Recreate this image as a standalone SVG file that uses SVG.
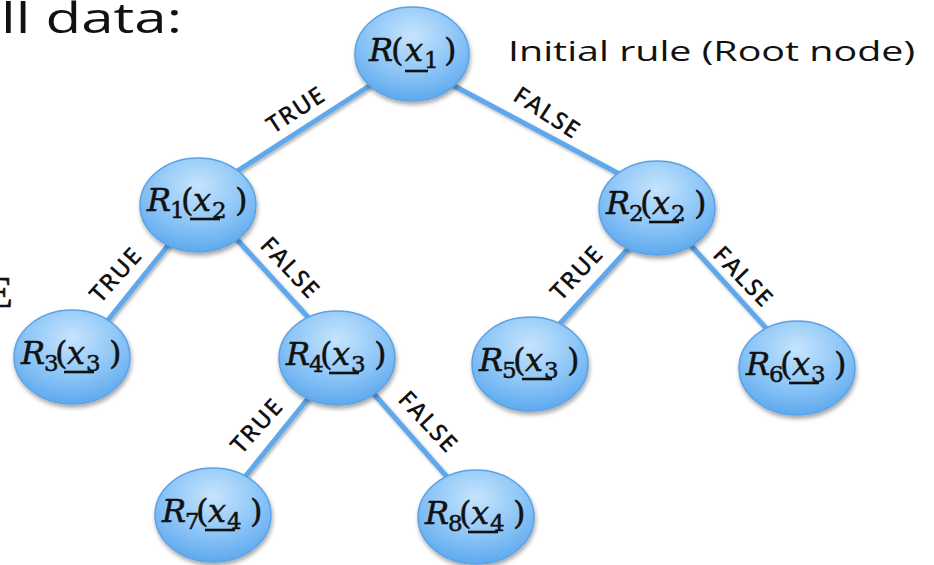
<svg xmlns="http://www.w3.org/2000/svg" width="934" height="565" viewBox="0 0 934 565">
  <defs>
    <radialGradient id="nodeFill" cx="50%" cy="30%" r="70%">
      <stop offset="0%" stop-color="#c6e4fd"/>
      <stop offset="55%" stop-color="#8fc7f7"/>
      <stop offset="100%" stop-color="#5ea9ee"/>
    </radialGradient>
    <filter id="shadow" x="-20%" y="-20%" width="140%" height="150%">
      <feDropShadow dx="1" dy="3" stdDeviation="2.2" flood-color="#000" flood-opacity="0.35"/>
    </filter>
    <filter id="lineShadow" x="-10%" y="-10%" width="120%" height="120%">
      <feDropShadow dx="1.5" dy="2" stdDeviation="1.5" flood-color="#000" flood-opacity="0.3"/>
    </filter>
  </defs>
  <style>
    .bg { fill: #ffffff; }
    .edge { stroke: #5ea8ec; stroke-width: 5; stroke-linecap: butt; fill: none; }
    .lbl { font-family: "Open Sans", "Liberation Sans", sans-serif; font-size: 24px; font-weight: 600; letter-spacing: 1.2px; fill: #111; text-anchor: middle; }
    .node ellipse { fill: url(#nodeFill); stroke: #5aa2e6; stroke-width: 1.5; filter: url(#shadow); }
    .m { font-family: "DejaVu Serif", "Liberation Serif", serif; font-size: 32px; fill: #111; stroke: #111; stroke-width: 0.5; }
    .it { font-style: italic; }
    .sb { font-size: 23px; }
    .ul { stroke: #111; stroke-width: 2.6; }
    .head { font-family: "Open Sans", "Liberation Sans", sans-serif; fill: #111; }
  </style>

  <rect class="bg" x="0" y="0" width="934" height="565"/>

  <!-- cut-off slide text -->
  <text class="head" x="1" y="33" font-size="42" textLength="181" lengthAdjust="spacingAndGlyphs">ll data:</text>
  <text x="-14" y="307" font-family="Liberation Serif, serif" font-size="44" fill="#111" stroke="#111" stroke-width="0.6">E</text>
  <text class="head" x="508" y="61" font-size="28" textLength="407" lengthAdjust="spacingAndGlyphs">Initial rule (Root node)</text>

  <!-- connectors -->
  <g id="edges" filter="url(#lineShadow)">
    <line class="edge" x1="380" y1="79" x2="225" y2="179"/>
    <line class="edge" x1="445" y1="81" x2="625" y2="177"/>
    <line class="edge" x1="174" y1="238" x2="104" y2="325"/>
    <line class="edge" x1="232" y1="234" x2="316" y2="326"/>
    <line class="edge" x1="637" y1="239" x2="555" y2="329"/>
    <line class="edge" x1="685" y1="239" x2="775" y2="338"/>
    <line class="edge" x1="315" y1="390" x2="240" y2="483"/>
    <line class="edge" x1="367" y1="386" x2="455" y2="486"/>
  </g>

  <!-- connector labels -->
  <g id="edge-labels">
    <text class="lbl" transform="translate(296,110) rotate(-33)" dy="8">TRUE</text>
    <text class="lbl" transform="translate(547,113) rotate(33)" dy="8">FALSE</text>
    <text class="lbl" transform="translate(116,275) rotate(-48)" dy="8">TRUE</text>
    <text class="lbl" transform="translate(290,268) rotate(47)" dy="8">FALSE</text>
    <text class="lbl" transform="translate(577,273) rotate(-47)" dy="8">TRUE</text>
    <text class="lbl" transform="translate(743,277) rotate(46)" dy="8">FALSE</text>
    <text class="lbl" transform="translate(257,426) rotate(-48)" dy="8">TRUE</text>
    <text class="lbl" transform="translate(428,422) rotate(47)" dy="8">FALSE</text>
  </g>

  <!-- nodes: R_k(x_j) laid out relative to the ellipse centre -->
  <g id="root" class="node">
    <ellipse cx="412" cy="54" rx="57" ry="47"/>
    <g transform="translate(412,61)">
      <text class="m"><tspan class="it" x="-43">R</tspan><tspan x="-21">(</tspan><tspan class="it" x="-7">x</tspan><tspan class="sb" x="12" dy="7">1</tspan><tspan x="32" dy="-7">)</tspan></text>
      <line class="ul" x1="-7" y1="10" x2="16" y2="10"/>
    </g>
  </g>

  <g id="r1" class="node">
    <ellipse cx="198" cy="205" rx="58" ry="47"/>
    <g transform="translate(198,211)">
      <text class="m"><tspan class="it" x="-51">R</tspan><tspan class="sb" x="-28" dy="7">1</tspan><tspan x="-17" dy="-7">(</tspan><tspan class="it" x="-5">x</tspan><tspan class="sb" x="14" dy="7">2</tspan><tspan x="37" dy="-7">)</tspan></text>
      <line class="ul" x1="-8" y1="8" x2="22" y2="8"/>
    </g>
  </g>

  <g id="r2" class="node">
    <ellipse cx="657" cy="208" rx="58" ry="47"/>
    <g transform="translate(657,214)">
      <text class="m"><tspan class="it" x="-51">R</tspan><tspan class="sb" x="-28" dy="7">2</tspan><tspan x="-17" dy="-7">(</tspan><tspan class="it" x="-5">x</tspan><tspan class="sb" x="14" dy="7">2</tspan><tspan x="37" dy="-7">)</tspan></text>
      <line class="ul" x1="-8" y1="8" x2="22" y2="8"/>
    </g>
  </g>

  <g id="r3" class="node">
    <ellipse cx="72" cy="357" rx="58" ry="47"/>
    <g transform="translate(72,364)">
      <text class="m"><tspan class="it" x="-51">R</tspan><tspan class="sb" x="-28" dy="7">3</tspan><tspan x="-17" dy="-7">(</tspan><tspan class="it" x="-5">x</tspan><tspan class="sb" x="14" dy="7">3</tspan><tspan x="37" dy="-7">)</tspan></text>
      <line class="ul" x1="-8" y1="8" x2="22" y2="8"/>
    </g>
  </g>

  <g id="r4" class="node">
    <ellipse cx="337" cy="358" rx="58" ry="47"/>
    <g transform="translate(337,365)">
      <text class="m"><tspan class="it" x="-51">R</tspan><tspan class="sb" x="-28" dy="7">4</tspan><tspan x="-17" dy="-7">(</tspan><tspan class="it" x="-5">x</tspan><tspan class="sb" x="14" dy="7">3</tspan><tspan x="37" dy="-7">)</tspan></text>
      <line class="ul" x1="-8" y1="8" x2="22" y2="8"/>
    </g>
  </g>

  <g id="r5" class="node">
    <ellipse cx="530" cy="364" rx="58" ry="47"/>
    <g transform="translate(530,371)">
      <text class="m"><tspan class="it" x="-51">R</tspan><tspan class="sb" x="-28" dy="7">5</tspan><tspan x="-17" dy="-7">(</tspan><tspan class="it" x="-5">x</tspan><tspan class="sb" x="14" dy="7">3</tspan><tspan x="37" dy="-7">)</tspan></text>
      <line class="ul" x1="-8" y1="8" x2="22" y2="8"/>
    </g>
  </g>

  <g id="r6" class="node">
    <ellipse cx="797" cy="368" rx="58" ry="47"/>
    <g transform="translate(797,375)">
      <text class="m"><tspan class="it" x="-51">R</tspan><tspan class="sb" x="-28" dy="7">6</tspan><tspan x="-17" dy="-7">(</tspan><tspan class="it" x="-5">x</tspan><tspan class="sb" x="14" dy="7">3</tspan><tspan x="37" dy="-7">)</tspan></text>
      <line class="ul" x1="-8" y1="8" x2="22" y2="8"/>
    </g>
  </g>

  <g id="r7" class="node">
    <ellipse cx="213" cy="515" rx="58" ry="47"/>
    <g transform="translate(213,522)">
      <text class="m"><tspan class="it" x="-51">R</tspan><tspan class="sb" x="-28" dy="7">7</tspan><tspan x="-17" dy="-7">(</tspan><tspan class="it" x="-5">x</tspan><tspan class="sb" x="14" dy="7">4</tspan><tspan x="37" dy="-7">)</tspan></text>
      <line class="ul" x1="-8" y1="8" x2="22" y2="8"/>
    </g>
  </g>

  <g id="r8" class="node">
    <ellipse cx="476" cy="517" rx="58" ry="47"/>
    <g transform="translate(476,524)">
      <text class="m"><tspan class="it" x="-51">R</tspan><tspan class="sb" x="-28" dy="7">8</tspan><tspan x="-17" dy="-7">(</tspan><tspan class="it" x="-5">x</tspan><tspan class="sb" x="14" dy="7">4</tspan><tspan x="37" dy="-7">)</tspan></text>
      <line class="ul" x1="-8" y1="8" x2="22" y2="8"/>
    </g>
  </g>
</svg>
